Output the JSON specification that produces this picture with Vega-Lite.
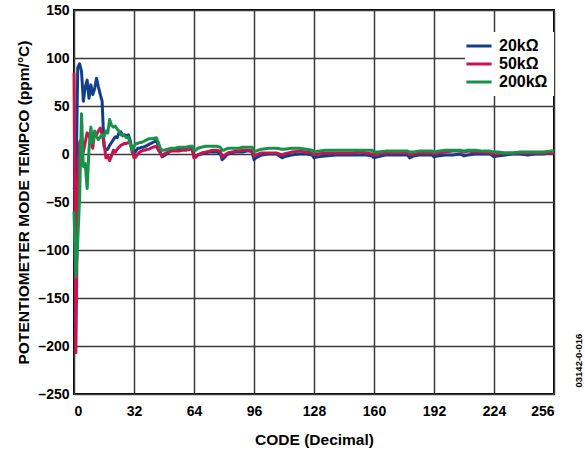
{
  "$schema": "https://vega.github.io/schema/vega-lite/v6.json",
  "width": 480,
  "height": 384,
  "autosize": {"type": "none"},
  "padding": {"left": 74, "top": 10, "right": 31, "bottom": 60},
  "background": "white",
  "config": {
    "font": "Liberation Sans",
    "view": {"stroke": "black", "strokeWidth": 2},
    "axis": {
      "labelFont": "Liberation Sans",
      "labelFontSize": 14,
      "labelFontWeight": "bold",
      "labelColor": "black",
      "titleFont": "Liberation Sans",
      "titleFontSize": 15.5,
      "titleFontWeight": "bold",
      "titleColor": "black",
      "domain": false,
      "ticks": false,
      "grid": true,
      "gridColor": "#3a3a3a",
      "gridWidth": 1.5,
      "gridOpacity": 1
    }
  },
  "title": {
    "text": "03142-0-016",
    "orient": "right",
    "anchor": "end",
    "angle": 270,
    "align": "left",
    "baseline": "middle",
    "fontSize": 9.5,
    "fontWeight": "bold",
    "font": "Liberation Sans",
    "color": "black",
    "offset": 14,
    "dx": 60
  },
  "data": {
    "values": [
      {"c": 0, "k20": -35, "k50": 85, "k200": -60},
      {"c": 1, "k20": -40, "k50": -207, "k200": -128},
      {"c": 2, "k20": 90, "k50": -30, "k200": -90},
      {"c": 3, "k20": 94, "k50": 12, "k200": -45},
      {"c": 4, "k20": 86, "k50": 16, "k200": 42},
      {"c": 5, "k20": 55, "k50": 2, "k200": -13},
      {"c": 6, "k20": 70, "k50": 12, "k200": -10},
      {"c": 7, "k20": 77, "k50": 22, "k200": -36},
      {"c": 8, "k20": 58, "k50": 20, "k200": 5},
      {"c": 9, "k20": 72, "k50": 12, "k200": 28},
      {"c": 10, "k20": 62, "k50": 6, "k200": 11},
      {"c": 11, "k20": 68, "k50": 22, "k200": 24},
      {"c": 12, "k20": 79, "k50": 20, "k200": 18},
      {"c": 13, "k20": 70, "k50": 24, "k200": 15},
      {"c": 14, "k20": 62, "k50": 27, "k200": 18},
      {"c": 15, "k20": 55, "k50": 20, "k200": 20},
      {"c": 16, "k20": 8, "k50": 12, "k200": 18},
      {"c": 17, "k20": 4, "k50": -4, "k200": 24},
      {"c": 18, "k20": 5, "k50": -2, "k200": 22},
      {"c": 19, "k20": 9, "k50": -7, "k200": 36},
      {"c": 20, "k20": 12, "k50": -2, "k200": 30},
      {"c": 21, "k20": 15, "k50": 4, "k200": 28},
      {"c": 22, "k20": 18, "k50": 2, "k200": 29},
      {"c": 23, "k20": 17, "k50": 5, "k200": 26},
      {"c": 24, "k20": 22, "k50": 7, "k200": 24},
      {"c": 25, "k20": 23, "k50": 9, "k200": 20},
      {"c": 26, "k20": 19, "k50": 10, "k200": 20},
      {"c": 27, "k20": 20, "k50": 11, "k200": 19},
      {"c": 28, "k20": 19, "k50": 11, "k200": 17},
      {"c": 29, "k20": 20, "k50": 12, "k200": 18},
      {"c": 30, "k20": 14, "k50": 11, "k200": 10},
      {"c": 31, "k20": 2, "k50": 6, "k200": 4},
      {"c": 32, "k20": 1, "k50": -4, "k200": 8},
      {"c": 33, "k20": 3, "k50": -3, "k200": 11},
      {"c": 34, "k20": 6, "k50": 0, "k200": 11},
      {"c": 35, "k20": 6, "k50": 2, "k200": 12},
      {"c": 36, "k20": 7, "k50": 3, "k200": 12},
      {"c": 37, "k20": 7, "k50": 4, "k200": 13},
      {"c": 38, "k20": 8, "k50": 4, "k200": 14},
      {"c": 39, "k20": 9, "k50": 5, "k200": 15},
      {"c": 40, "k20": 10, "k50": 5, "k200": 16},
      {"c": 42, "k20": 12, "k50": 7, "k200": 16},
      {"c": 44, "k20": 14, "k50": 8, "k200": 17},
      {"c": 45, "k20": 8, "k50": 4, "k200": 12},
      {"c": 46, "k20": 2, "k50": 1, "k200": 6},
      {"c": 47, "k20": -3, "k50": -2, "k200": 4},
      {"c": 48, "k20": -2, "k50": 0, "k200": 4},
      {"c": 50, "k20": 1, "k50": 2, "k200": 5},
      {"c": 52, "k20": 4, "k50": 3, "k200": 6},
      {"c": 54, "k20": 4, "k50": 3, "k200": 6},
      {"c": 56, "k20": 5, "k50": 3, "k200": 7},
      {"c": 58, "k20": 6, "k50": 4, "k200": 7},
      {"c": 60, "k20": 7, "k50": 4, "k200": 7},
      {"c": 62, "k20": 7, "k50": 5, "k200": 8},
      {"c": 63, "k20": 8, "k50": 5, "k200": 8},
      {"c": 64, "k20": -3, "k50": -4, "k200": 4},
      {"c": 65, "k20": -3, "k50": -3, "k200": 4},
      {"c": 66, "k20": -1, "k50": -1, "k200": 6},
      {"c": 68, "k20": 0, "k50": 1, "k200": 7},
      {"c": 70, "k20": 1, "k50": 2, "k200": 8},
      {"c": 72, "k20": 2, "k50": 3, "k200": 8},
      {"c": 74, "k20": 2, "k50": 4, "k200": 8},
      {"c": 76, "k20": 2, "k50": 4, "k200": 8},
      {"c": 78, "k20": 1, "k50": 3, "k200": 7},
      {"c": 79, "k20": -6, "k50": -3, "k200": 4},
      {"c": 80, "k20": -4, "k50": -2, "k200": 4},
      {"c": 82, "k20": 0, "k50": 1, "k200": 6},
      {"c": 84, "k20": 1, "k50": 2, "k200": 6},
      {"c": 86, "k20": 2, "k50": 3, "k200": 6},
      {"c": 88, "k20": 2, "k50": 3, "k200": 6},
      {"c": 90, "k20": 2, "k50": 4, "k200": 7},
      {"c": 92, "k20": 3, "k50": 4, "k200": 7},
      {"c": 94, "k20": 3, "k50": 4, "k200": 7},
      {"c": 95, "k20": 2, "k50": 3, "k200": 7},
      {"c": 96, "k20": -6, "k50": -2, "k200": 3},
      {"c": 97, "k20": -4, "k50": -1, "k200": 3},
      {"c": 100, "k20": -1, "k50": 1, "k200": 5},
      {"c": 104, "k20": 0, "k50": 1, "k200": 6},
      {"c": 108, "k20": 0, "k50": 1, "k200": 6},
      {"c": 111, "k20": -4, "k50": -1, "k200": 5},
      {"c": 112, "k20": -3, "k50": 0, "k200": 5},
      {"c": 116, "k20": -1, "k50": 2, "k200": 6},
      {"c": 120, "k20": 0, "k50": 3, "k200": 6},
      {"c": 124, "k20": 0, "k50": 2, "k200": 5},
      {"c": 127, "k20": -1, "k50": 1, "k200": 4},
      {"c": 128, "k20": -4, "k50": -1, "k200": 2},
      {"c": 130, "k20": -3, "k50": 0, "k200": 3},
      {"c": 134, "k20": -2, "k50": 1, "k200": 4},
      {"c": 140, "k20": -1, "k50": 1, "k200": 4},
      {"c": 144, "k20": -1, "k50": 1, "k200": 4},
      {"c": 148, "k20": -1, "k50": 1, "k200": 4},
      {"c": 152, "k20": -1, "k50": 2, "k200": 4},
      {"c": 156, "k20": -1, "k50": 1, "k200": 4},
      {"c": 159, "k20": -2, "k50": 0, "k200": 4},
      {"c": 160, "k20": -4, "k50": -1, "k200": 2},
      {"c": 162, "k20": -3, "k50": 0, "k200": 2},
      {"c": 166, "k20": -1, "k50": 1, "k200": 3},
      {"c": 170, "k20": -1, "k50": 1, "k200": 3},
      {"c": 174, "k20": -1, "k50": 1, "k200": 3},
      {"c": 178, "k20": -1, "k50": 1, "k200": 3},
      {"c": 179, "k20": -4, "k50": -1, "k200": 2},
      {"c": 181, "k20": -2, "k50": 0, "k200": 2},
      {"c": 184, "k20": -1, "k50": 1, "k200": 3},
      {"c": 188, "k20": -1, "k50": 1, "k200": 3},
      {"c": 191, "k20": -1, "k50": 1, "k200": 3},
      {"c": 192, "k20": -3, "k50": 0, "k200": 2},
      {"c": 194, "k20": -2, "k50": 1, "k200": 3},
      {"c": 198, "k20": -1, "k50": 2, "k200": 4},
      {"c": 202, "k20": -1, "k50": 3, "k200": 4},
      {"c": 206, "k20": 0, "k50": 3, "k200": 4},
      {"c": 208, "k20": -2, "k50": 2, "k200": 3},
      {"c": 210, "k20": -1, "k50": 3, "k200": 4},
      {"c": 214, "k20": 0, "k50": 2, "k200": 4},
      {"c": 218, "k20": 0, "k50": 2, "k200": 3},
      {"c": 222, "k20": 0, "k50": 1, "k200": 3},
      {"c": 224, "k20": -3, "k50": 0, "k200": 2},
      {"c": 226, "k20": -2, "k50": 0, "k200": 2},
      {"c": 230, "k20": -1, "k50": 1, "k200": 1},
      {"c": 234, "k20": 0, "k50": 1, "k200": 1},
      {"c": 238, "k20": 0, "k50": 1, "k200": 2},
      {"c": 242, "k20": -1, "k50": 1, "k200": 2},
      {"c": 246, "k20": 0, "k50": 1, "k200": 2},
      {"c": 250, "k20": 0, "k50": 1, "k200": 2},
      {"c": 254, "k20": 1, "k50": 1, "k200": 3},
      {"c": 256, "k20": 1, "k50": 1, "k200": 3}
    ]
  },
  "transform": [{"fold": ["k20", "k50", "k200"], "as": ["series", "tempco"]}],
  "mark": {"type": "line", "strokeWidth": 3, "strokeJoin": "round"},
  "encoding": {
    "x": {
      "field": "c",
      "type": "quantitative",
      "scale": {"domain": [0, 256], "nice": false},
      "axis": {
        "values": [0, 32, 64, 96, 128, 160, 192, 224, 256],
        "title": "CODE (Decimal)",
        "labelPadding": 10,
        "titlePadding": 14
      }
    },
    "y": {
      "field": "tempco",
      "type": "quantitative",
      "scale": {"domain": [-250, 150], "nice": false},
      "axis": {
        "values": [-250, -200, -150, -100, -50, 0, 50, 100, 150],
        "labelExpr": "datum.value < 0 ? '–' + abs(datum.value) : datum.label",
        "title": "POTENTIOMETER MODE TEMPCO (ppm/°C)",
        "labelPadding": 5,
        "titlePadding": 6
      }
    },
    "color": {
      "field": "series",
      "type": "nominal",
      "scale": {"domain": ["k20", "k50", "k200"], "range": ["#123e8c", "#c8144e", "#17924a"]},
      "legend": {
        "title": null,
        "orient": "none",
        "legendX": 391,
        "legendY": 22,
        "fillColor": "white",
        "padding": 6,
        "symbolType": "M-2.1,0H2.1",
        "symbolSize": 144,
        "symbolStrokeWidth": 3,
        "labelFont": "Liberation Sans",
        "labelFontSize": 16,
        "labelFontWeight": "bold",
        "labelColor": "black",
        "labelOffset": 12,
        "rowPadding": 2,
        "labelExpr": "datum.label == 'k20' ? '20kΩ' : datum.label == 'k50' ? '50kΩ' : '200kΩ'"
      }
    }
  }
}
